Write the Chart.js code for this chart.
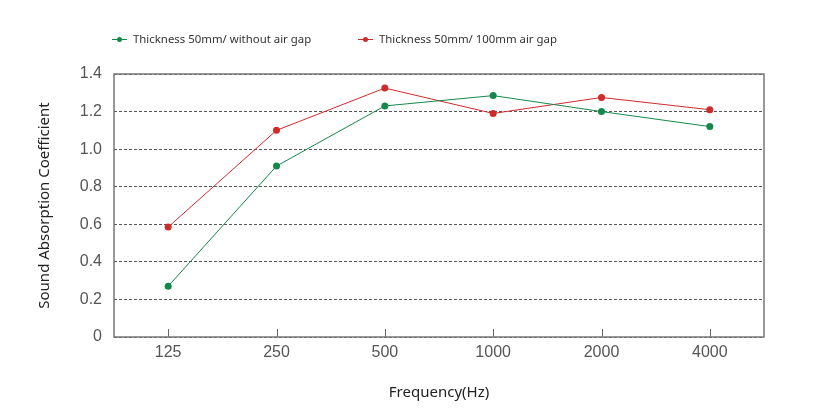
<!DOCTYPE html>
<html>
<head>
<meta charset="utf-8">
<script src="https://cdn.jsdelivr.net/npm/chart.js@4"></script>
<style>
  html, body { margin: 0; padding: 0; background: #fff; }
  #wrap { position: relative; width: 814px; height: 417px; }
  #legend { position: absolute; top: 31px; left: 112px; font-family: "Noto Sans", "Open Sans", sans-serif; font-size: 11.4px; color: #333; }
  .item { position: absolute; white-space: nowrap; display: flex; align-items: center; }
  .mark { position: relative; width: 15px; height: 10px; margin-right: 6px; }
  .mark .ln { position: absolute; left: 0; right: 0; top: 5px; height: 1px; }
  .mark .dot { position: absolute; left: 5px; top: 3px; width: 5px; height: 5px; border-radius: 50%; }
</style>
</head>
<body>
<div id="wrap">
  <canvas id="myChart" width="814" height="417"></canvas>
  <div id="legend"></div>
</div>
<script>
// frequencies along the bottom
const frequencies = ['125', '250', '500', '1000', '2000', '4000'];
const withoutGap = [0.27, 0.91, 1.23, 1.285, 1.20, 1.12];
const withGap = [0.585, 1.10, 1.325, 1.19, 1.275, 1.21];
const seriesNames = ['Thickness 50mm/ without air gap', 'Thickness 50mm/ 100mm air gap'];
const seriesColors = ['#14884a', '#cf2b2b'];
const yTicks = [0, 0.2, 0.4, 0.6, 0.8, 1.0, 1.2, 1.4];

const fontName = '"Noto Sans", "Open Sans", sans-serif';
const tickFont = '"Liberation Sans", Arial, sans-serif';

// box around the plot plus little category ticks on the bottom edge
const frame = {
  id: 'frame',
  afterDatasetsDraw(chart) {
    const {ctx, chartArea: a, scales} = chart;
    ctx.save();
    ctx.strokeStyle = '#666';
    ctx.lineWidth = 1;
    frequencies.forEach((f, i) => {
      const x = Math.round(scales.x.getPixelForValue(i)) + 0.5;
      ctx.beginPath();
      ctx.moveTo(x, a.bottom);
      ctx.lineTo(x, a.bottom - 8);
      ctx.stroke();
    });
    ctx.strokeStyle = '#777';
    ctx.lineWidth = 1.5;
    ctx.strokeRect(a.left, a.top, a.right - a.left, a.bottom - a.top);
    ctx.restore();
  }
};

const ctx = document.getElementById('myChart').getContext('2d');
const chart = new Chart(ctx, {
  type: 'line',
  data: {
    labels: frequencies,
    datasets: [withoutGap, withGap].map((d, i) => ({
      label: seriesNames[i],
      data: d,
      borderColor: seriesColors[i],
      backgroundColor: seriesColors[i],
      borderWidth: 1,
      pointRadius: 3.5,
      pointBorderWidth: 0,
      tension: 0,
      fill: false
    }))
  },
  options: {
    responsive: false,
    animation: false,
    layout: { padding: { left: 0, right: 50, top: 74, bottom: 0 } },
    plugins: {
      legend: { display: false },
      tooltip: { enabled: false }
    },
    scales: {
      x: {
        offset: true,
        grid: { display: false, drawTicks: false },
        border: { display: false },
        ticks: { padding: 6, color: '#555', font: { family: tickFont, size: 16 } },
        title: {
          display: true, text: 'Frequency(Hz)', color: '#222',
          font: { family: fontName, size: 15 }, padding: { top: 0, bottom: 15 }
        },
        afterFit(s) { s.height = 80; }
      },
      y: {
        min: 0, max: 1.4,
        afterBuildTicks(s) { s.ticks = yTicks.map(v => ({ value: v })); },
        grid: { drawTicks: false, color: '#555', lineWidth: 1 },
        border: { display: false, dash: [3, 2] },
        ticks: {
          padding: 12, color: '#555', font: { family: tickFont, size: 16 },
          callback: v => v === 0 ? '0' : v.toFixed(1)
        },
        title: {
          display: true, text: 'Sound Absorption Coefficient', color: '#222',
          font: { family: fontName, size: 15 }, padding: { top: 36, bottom: 0 }
        },
        afterFit(s) { s.width = 114; }
      }
    }
  },
  plugins: [frame]
});

// legend built from the datasets
const lg = document.getElementById('legend');
const lefts = [0, 246];
chart.data.datasets.forEach((ds, i) => {
  const it = document.createElement('div');
  it.className = 'item';
  it.style.left = lefts[i] + 'px';
  it.innerHTML = '<span class="mark"><span class="ln" style="background:' + ds.borderColor +
    '"></span><span class="dot" style="background:' + ds.borderColor + '"></span></span>' + ds.label;
  lg.appendChild(it);
});
</script>
</body>
</html>
